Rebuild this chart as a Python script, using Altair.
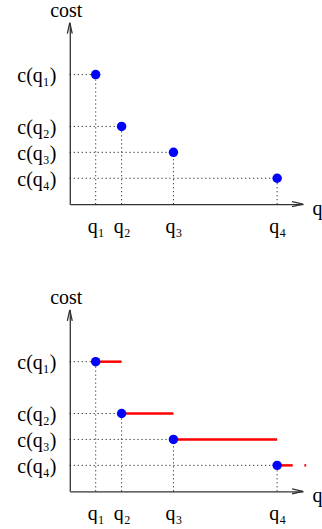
import altair as alt
import pandas as pd

# Quantities and the cost paid at each of them
q_values = [1, 2, 4, 8]
cost_values = [5, 3, 2, 1]
q_names = ["q₁", "q₂", "q₃", "q₄"]
cost_names = ["c(q₁)", "c(q₂)", "c(q₃)", "c(q₄)"]

# Step segments: each cost level is held until the next quantity
seg_start = [1, 2, 4, 8, 9.05]
seg_end = [2, 4, 8, 8.6, 9.12]
seg_cost = [5, 3, 2, 1, 1]

X_MAX = 9
Y_MAX = 7

FONT = "Liberation Serif"
FONT_SIZE = 20
AXIS_COLOR = "#333333"
BLUE = "#0000ff"
RED = "#ff0000"

pts = pd.DataFrame({"q": q_values, "cost": cost_values, "zero": [0] * len(q_values)})
segs = pd.DataFrame({"start": seg_start, "end": seg_end, "cost": seg_cost})
x_tip = pd.DataFrame({"q": [X_MAX], "cost": [0]})
y_tip = pd.DataFrame({"q": [0], "cost": [Y_MAX]})


def label_expr(values, names):
    expr = "''"
    for v, n in zip(values, names):
        expr = f"datum.value == {v} ? '{n}' : ({expr})"
    return expr


x_scale = alt.Scale(domain=[0, X_MAX], nice=False, zero=True)
y_scale = alt.Scale(domain=[0, Y_MAX], nice=False, zero=True)

x_axis = alt.Axis(
    values=q_values, labelExpr=label_expr(q_values, q_names),
    ticks=False, tickSize=0, grid=False,
    domainColor=AXIS_COLOR, domainWidth=1.3,
    labelFont=FONT, labelFontSize=FONT_SIZE, labelColor="black", labelPadding=12,
    labelAlign="center", labelBaseline="top",
    title="q", titleFont=FONT, titleFontSize=FONT_SIZE, titleFontWeight="normal",
    titleColor="black", titleX=243, titleY=10, titleAlign="left",
    titleBaseline="alphabetic", titleAngle=0,
)
y_axis = alt.Axis(
    values=cost_values, labelExpr=label_expr(cost_values, cost_names),
    ticks=False, tickSize=0, grid=False,
    domainColor=AXIS_COLOR, domainWidth=1.3,
    labelFont=FONT, labelFontSize=FONT_SIZE, labelColor="black", labelPadding=14,
    labelOffset=1,
    title="cost", titleFont=FONT, titleFontSize=FONT_SIZE, titleFontWeight="normal",
    titleColor="black", titleX=-4, titleY=-6, titleAlign="center",
    titleBaseline="alphabetic", titleAngle=0,
)

W = 234
H = 182


def panel(with_steps):
    X = lambda f: alt.X(f, type="quantitative", scale=x_scale, axis=x_axis)
    Y = lambda f: alt.Y(f, type="quantitative", scale=y_scale, axis=y_axis)

    h_dots = alt.Chart(pts).mark_rule(
        color="black", strokeWidth=1, strokeDash=[1, 3]
    ).encode(x=X("zero"), x2="q", y=Y("cost"))

    v_dots = alt.Chart(pts).mark_rule(
        color="black", strokeWidth=1, strokeDash=[1, 3]
    ).encode(x=X("q"), y=Y("zero"), y2="cost")

    dots = alt.Chart(pts).mark_circle(size=90, color=BLUE, opacity=1).encode(
        x=X("q"), y=Y("cost")
    )

    x_arrow = alt.Chart(x_tip).mark_point(
        shape="M-2,-0.45L0,0L-2,0.45", size=121, filled=False,
        color=AXIS_COLOR, strokeWidth=1.3, opacity=1,
    ).encode(x=X("q"), y=Y("cost"))

    y_arrow = alt.Chart(y_tip).mark_point(
        shape="M-0.45,2L0,0L0.45,2", size=121, filled=False,
        color=AXIS_COLOR, strokeWidth=1.3, opacity=1,
    ).encode(x=X("q"), y=Y("cost"))

    layers = [h_dots, v_dots]
    if with_steps:
        steps = alt.Chart(segs).mark_rule(
            color=RED, strokeWidth=2.5, strokeCap="butt"
        ).encode(x=X("start"), x2="end", y=Y("cost"))
        layers.append(steps)
    layers += [dots, x_arrow, y_arrow]
    return alt.layer(*layers).properties(width=W, height=H)


chart = alt.vconcat(
    panel(False), panel(True), spacing=106, bounds="flush"
).properties(
    padding={"left": 16, "top": 0, "right": 0, "bottom": 0},
    background="white",
).configure_view(stroke=None)

chart.save("out.html", embed_options={"renderer": "svg", "actions": False})
